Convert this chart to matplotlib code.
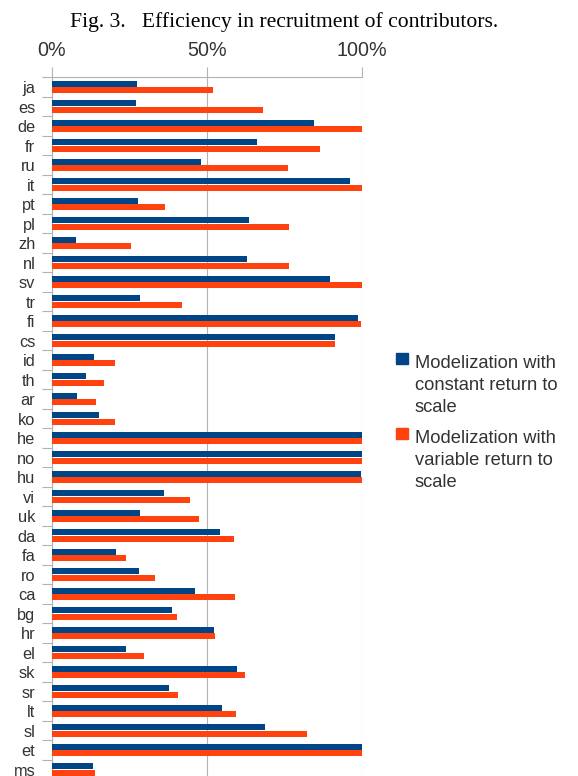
import numpy as np
import matplotlib

matplotlib.use('Agg')
import matplotlib.pyplot as plt
from matplotlib.patches import Rectangle

# Wikipedia language editions, top to bottom
languages = ['ja', 'es', 'de', 'fr', 'ru', 'it', 'pt', 'pl', 'zh', 'nl',
             'sv', 'tr', 'fi', 'cs', 'id', 'th', 'ar', 'ko', 'he', 'no',
             'hu', 'vi', 'uk', 'da', 'fa', 'ro', 'ca', 'bg', 'hr', 'el',
             'sk', 'sr', 'lt', 'sl', 'et', 'ms']

# efficiency (%), constant return to scale
crs = [27.4, 27.1, 84.4, 66.1, 48.0, 96.0, 27.7, 63.5, 7.7, 62.8,
       89.6, 28.4, 98.6, 91.2, 13.5, 11.0, 8.1, 15.1, 100, 100,
       99.6, 36.1, 28.4, 54.1, 20.6, 28.0, 46.1, 38.7, 52.2, 23.8,
       59.6, 37.7, 54.8, 68.6, 100, 13.1]

# efficiency (%), variable return to scale
vrs = [51.8, 68.0, 100, 86.4, 76.0, 100, 36.4, 76.4, 25.5, 76.4,
       100, 41.9, 99.6, 91.2, 20.3, 16.8, 14.2, 20.3, 100, 100,
       99.9, 44.5, 47.4, 58.6, 23.8, 33.2, 59.0, 40.3, 52.5, 29.6,
       62.2, 40.6, 59.3, 82.2, 100, 13.9]

x_ticks = [0, 50, 100]
x_ticklabels = ['0%', '50%', '100%']

labels = ['Modelization with\nconstant return to\nscale',
          'Modelization with\nvariable return to\nscale']

BLUE = '#004586'
ORANGE = '#ff420e'
GRID = '#b3b3b3'
TXT = '#333333'
SANS = 'Liberation Sans'

W, H = 578, 776
fig = plt.figure(figsize=(W / 100, H / 100), dpi=100)

# axes placed in pixels, bottom runs slightly past the image edge
left, right, top, bottom = 52, 362.3, 77.3, 779.3
ax = fig.add_axes([left / W, 1 - bottom / H, (right - left) / W, (bottom - top) / H])

y = np.arange(len(languages))
h = 0.32
ax.barh(y - 0.165, crs, height=h, color=BLUE, zorder=3)
ax.barh(y + 0.165, vrs, height=h, color=ORANGE, zorder=3)

ax.set_xlim(0, 100)
ax.set_ylim(len(languages) - 0.5, -0.5)

# x axis on top
ax.xaxis.tick_top()
ax.set_xticks(x_ticks)
ax.set_xticklabels(x_ticklabels, fontsize=14.2, family=SANS, color=TXT)
ax.tick_params(axis='x', direction='out', length=7.2, width=0.8, color=GRID, pad=5)
ax.grid(axis='x', color=GRID, linewidth=0.8, zorder=0)

# category boundaries as major ticks, names as minor ticks
ax.set_yticks(np.arange(len(languages) + 1) - 0.5)
ax.set_yticklabels([])
ax.set_yticks(y, minor=True)
ax.set_yticklabels(languages, minor=True, fontsize=11.8, family=SANS, color=TXT)
ax.tick_params(axis='y', which='major', direction='out', length=7.2, width=0.8, color=GRID)
ax.tick_params(axis='y', which='minor', length=0, pad=12)

for s in ['right', 'bottom']:
    ax.spines[s].set_visible(False)
for s in ['left', 'top']:
    ax.spines[s].set_color(GRID)
    ax.spines[s].set_linewidth(0.8)

# legend drawn by hand to match the multi-line layout
for (color, label, ytop) in [(BLUE, labels[0], 352.7), (ORANGE, labels[1], 427.7)]:
    fig.patches.append(Rectangle((395.7 / W, 1 - (ytop + 11.5) / H), 12 / W, 11.5 / H,
                                 transform=fig.transFigure, color=color))
    # baseline refers to the last of the three lines
    fig.text(415 / W, 1 - (ytop + 14 + 45) / H, label, fontsize=13.2, family=SANS,
             color=TXT, va='baseline', ha='left', linespacing=1.37)

fig.text(284 / W, 1 - 27.3 / H, 'Fig. 3.   Efficiency in recruitment of contributors.',
         fontsize=15.6, family='Liberation Serif', color='black', ha='center', va='baseline')

plt.savefig('out.png', dpi=100)
plt.close(fig)
